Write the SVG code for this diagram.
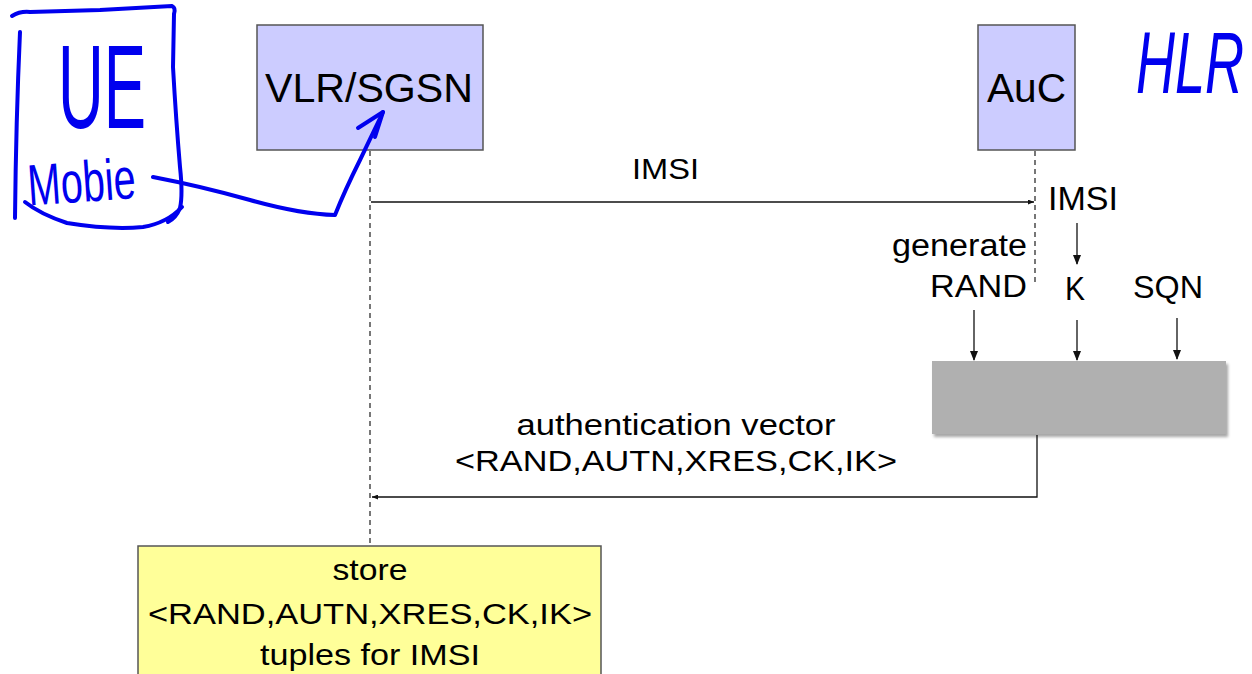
<svg xmlns="http://www.w3.org/2000/svg" width="1252" height="674" viewBox="0 0 1252 674">
  <style>
    .t { font-family: "Liberation Sans", Arial, sans-serif; fill: #000; }
    .node { fill: #ccccff; stroke: #555; stroke-width: 1.5; }
    .life { stroke: #555; stroke-width: 1.6; stroke-dasharray: 5 4; fill: none; }
    .msg { stroke: #111; stroke-width: 1.3; fill: none; }
    .hand { stroke: #0000ee; stroke-width: 4; fill: none; stroke-linecap: round; stroke-linejoin: round; }
    .handt { font-family: "Liberation Sans", Arial, sans-serif; fill: #0000ee; }
  </style>
  <defs>
    <marker id="ah" markerWidth="10" markerHeight="8" refX="9" refY="4" orient="auto" markerUnits="userSpaceOnUse">
      <path d="M0,0 L10,4 L0,8 Z" fill="#111"/>
    </marker>
    <marker id="ahs" markerWidth="6" markerHeight="5" refX="6" refY="2.5" orient="auto" markerUnits="userSpaceOnUse">
      <path d="M0,0 L6,2.5 L0,5 Z" fill="#111"/>
    </marker>
    <filter id="sh" x="-5%" y="-10%" width="115%" height="130%">
      <feDropShadow dx="2" dy="3" stdDeviation="1.5" flood-color="#000" flood-opacity="0.35"/>
    </filter>
  </defs>

  <rect width="1252" height="674" fill="#fff"/>

  <!-- connectors -->
  <g id="connectors">
    <line class="life" x1="370" y1="151" x2="370" y2="545"/>
    <line class="life" x1="1035" y1="151" x2="1035" y2="282"/>
    <line class="msg" x1="371" y1="202" x2="1034" y2="202" marker-end="url(#ahs)"/>
    <line class="msg" x1="1077" y1="223" x2="1077" y2="264" marker-end="url(#ah)"/>
    <line class="msg" x1="974" y1="310" x2="974" y2="360" marker-end="url(#ah)"/>
    <line class="msg" x1="1077" y1="320" x2="1077" y2="360" marker-end="url(#ah)"/>
    <line class="msg" x1="1177" y1="318" x2="1177" y2="359" marker-end="url(#ah)"/>
    <polyline class="msg" points="1037,435 1037,497 372,497" marker-end="url(#ahs)"/>
  </g>

  <!-- nodes -->
  <g id="vlr">
    <rect class="node" x="257" y="25" width="226" height="125"/>
    <text class="t" x="369" y="102" font-size="40" text-anchor="middle" textLength="208" lengthAdjust="spacingAndGlyphs">VLR/SGSN</text>
  </g>
  <g id="auc">
    <rect class="node" x="978" y="25" width="97" height="125"/>
    <text class="t" x="1026.5" y="102" font-size="40" text-anchor="middle" textLength="79" lengthAdjust="spacingAndGlyphs">AuC</text>
  </g>
  <g id="imsi-msg">
    <text class="t" x="665.5" y="179" font-size="30" text-anchor="middle" textLength="67" lengthAdjust="spacingAndGlyphs">IMSI</text>
  </g>
  <g id="imsi-in">
    <text class="t" x="1083" y="210" font-size="33" text-anchor="middle" textLength="70" lengthAdjust="spacingAndGlyphs">IMSI</text>
  </g>
  <g id="rand">
    <text class="t" x="1027" y="256" font-size="31" text-anchor="end" textLength="135" lengthAdjust="spacingAndGlyphs">generate</text>
    <text class="t" x="1027" y="297" font-size="31" text-anchor="end" textLength="97" lengthAdjust="spacingAndGlyphs">RAND</text>
  </g>
  <g id="k">
    <text class="t" x="1075" y="300" font-size="33" text-anchor="middle" textLength="20" lengthAdjust="spacingAndGlyphs">K</text>
  </g>
  <g id="sqn">
    <text class="t" x="1168" y="298" font-size="31" text-anchor="middle" textLength="70" lengthAdjust="spacingAndGlyphs">SQN</text>
  </g>
  <g id="func">
    <rect x="932" y="361" width="294" height="73" fill="#b0b0b0" filter="url(#sh)"/>
  </g>
  <g id="av-label">
    <text class="t" x="676" y="435" font-size="30" text-anchor="middle" textLength="319" lengthAdjust="spacingAndGlyphs">authentication vector</text>
    <text class="t" x="676" y="471" font-size="30" text-anchor="middle" textLength="442" lengthAdjust="spacingAndGlyphs">&lt;RAND,AUTN,XRES,CK,IK&gt;</text>
  </g>
  <g id="store">
    <rect x="138" y="546" width="463" height="140" fill="#ffff99" stroke="#555" stroke-width="1.5"/>
    <text class="t" x="370" y="580" font-size="30" text-anchor="middle" textLength="75" lengthAdjust="spacingAndGlyphs">store</text>
    <text class="t" x="370" y="624" font-size="30" text-anchor="middle" textLength="444" lengthAdjust="spacingAndGlyphs">&lt;RAND,AUTN,XRES,CK,IK&gt;</text>
    <text class="t" x="370" y="665" font-size="30" text-anchor="middle" textLength="220" lengthAdjust="spacingAndGlyphs">tuples for IMSI</text>
  </g>

  <!-- handwritten annotations -->
  <g id="ue-annotation">
    <path class="hand" d="M12,16 Q20,11 30,12 L100,10 L172,6 Q176,8 174,14 L173,67 Q176,120 180,167 Q183,195 180,208 Q176,218 168,222"/>
    <path class="hand" d="M20,32 Q16,120 15,218"/>
    <path class="hand" d="M25,202 Q40,214 67,223 Q110,230 143,227 Q167,223 182,207"/>
    <text class="handt" x="58" y="128" font-size="118" textLength="88" lengthAdjust="spacingAndGlyphs">UE</text>
    <text class="handt" x="28" y="202" font-size="58" textLength="108" lengthAdjust="spacingAndGlyphs" transform="rotate(-4 80 190)">Mobie</text>
    <path class="hand" d="M153,177 Q200,186 250,200 Q300,214 335,215 Q345,190 360,160 L383,112"/>
    <path class="hand" d="M358,128 L383,112 L375,137"/>
  </g>
  <g id="hlr-annotation">
    <text class="handt" x="1136" y="93" font-size="54" font-style="italic" transform="matrix(1,0,0,1.6,0,-55.8)">HLR</text>
  </g>
</svg>
